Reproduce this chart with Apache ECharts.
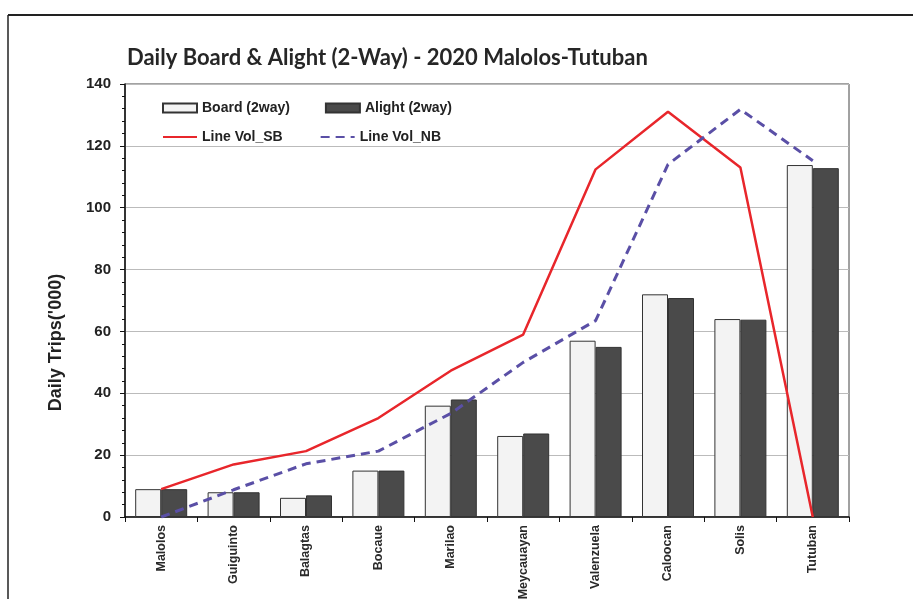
<!DOCTYPE html>
<html>
<head>
<meta charset="utf-8">
<script src="https://cdn.jsdelivr.net/npm/echarts@6/dist/echarts.min.js"></script>
<style>
  html, body { margin: 0; padding: 0; background: #fff; }
  #chart { width: 913px; height: 599px; }
</style>
</head>
<body>
<div id="chart"></div>
<script>
// 站点
var stations = ['Malolos', 'Guiguinto', 'Balagtas', 'Bocaue', 'Marilao', 'Meycauayan', 'Valenzuela', 'Caloocan', 'Solis', 'Tutuban']
// 上下车量 ('000)
var boardList = [9, 8, 6.2, 15, 36, 26.2, 57, 72, 64, 113.8]
var alightList = [9, 8, 7, 15, 38, 27, 55, 70.8, 63.8, 112.8]
// 断面流量
var lineVolSB = [9, 17, 21.3, 32, 47.3, 59, 112.4, 131, 113, 0]
var lineVolNB = [0, 8.8, 17.2, 21.3, 33.5, 50, 63.5, 114, 131.8, 115.2]

var chart = echarts.init(document.getElementById('chart'))
var labelFont = '"Liberation Sans", Arial, sans-serif'
var legendText = { fontFamily: labelFont, fontWeight: 'bold', fontSize: 14, color: '#222' }

chart.setOption({
  animation: false,
  title: {
    text: 'Daily Board & Alight (2-Way) - 2020 Malolos-Tutuban',
    left: 122,
    top: 42,
    textStyle: {
      fontFamily: 'Lato',
      fontWeight: 'bold',
      fontSize: 22,
      color: '#262626'
    }
  },
  graphic: [
    // 外框
    { type: 'line', shape: { x1: 8, y1: 15, x2: 913, y2: 15 }, style: { stroke: '#222', lineWidth: 2 } },
    { type: 'line', shape: { x1: 8, y1: 15, x2: 8, y2: 599 }, style: { stroke: '#222', lineWidth: 1.5 } }
  ],
  legend: [{
    data: [
      { name: 'Board (2way)', icon: 'rect' },
      { name: 'Alight (2way)', icon: 'rect' }
    ],
    left: 162,
    top: 101,
    padding: 0,
    itemWidth: 34,
    itemHeight: 9,
    itemGap: 35,
    textStyle: legendText
  }, {
    data: [
      { name: 'Line Vol_SB', itemStyle: { opacity: 0 } },
      { name: 'Line Vol_NB', itemStyle: { opacity: 0 } }
    ],
    left: 162,
    top: 130,
    padding: 0,
    itemWidth: 34,
    itemHeight: 9,
    itemGap: 37,
    textStyle: legendText
  }],
  grid: {
    left: 125,
    right: 64,
    top: 84,
    bottom: 82,
    outerBoundsMode: 'none',
    show: true,
    borderColor: '#444',
    borderWidth: 1
  },
  xAxis: {
    type: 'category',
    data: stations,
    axisLine: { lineStyle: { color: '#111', width: 1.5 } },
    axisTick: { show: true, length: 5, lineStyle: { color: '#111' } },
    axisLabel: {
      interval: 0,
      rotate: 90,
      margin: 8,
      fontFamily: labelFont,
      fontWeight: 'bold',
      fontSize: 12.5,
      color: '#2a2a2a'
    }
  },
  yAxis: {
    type: 'value',
    min: 0,
    max: 140,
    interval: 20,
    name: "Daily Trips('000)",
    nameLocation: 'middle',
    nameGap: 60,
    nameTextStyle: {
      fontFamily: labelFont,
      fontWeight: 'bold',
      fontSize: 18,
      color: '#222',
      padding: [0, 84, 0, 0]
    },
    axisLine: { show: true, lineStyle: { color: '#111', width: 1.5 } },
    axisTick: { show: true, length: 5, lineStyle: { color: '#111' } },
    minorTick: { show: true, splitNumber: 5, length: 3, lineStyle: { color: '#111' } },
    splitLine: { lineStyle: { color: '#bbb', width: 1 } },
    axisLabel: {
      margin: 14,
      fontFamily: labelFont,
      fontWeight: 'bold',
      fontSize: 15,
      color: '#222'
    }
  },
  series: [
    {
      name: 'Board (2way)',
      type: 'bar',
      barWidth: 26,
      barGap: '0%',
      itemStyle: { color: '#f3f3f3', borderColor: '#333', borderWidth: 1 },
      data: boardList
    },
    {
      name: 'Alight (2way)',
      type: 'bar',
      barWidth: 26,
      itemStyle: { color: '#4a4a4a', borderColor: '#333', borderWidth: 1 },
      data: alightList
    },
    {
      name: 'Line Vol_SB',
      type: 'line',
      symbol: 'none',
      z: 5,
      itemStyle: { color: '#e8262b' },
      lineStyle: { color: '#e8262b', width: 2.5 },
      data: lineVolSB
    },
    {
      name: 'Line Vol_NB',
      type: 'line',
      symbol: 'none',
      z: 5,
      itemStyle: { color: '#5a4fa6' },
      lineStyle: { color: '#5a4fa6', width: 3, type: [9, 6] },
      data: lineVolNB
    }
  ]
})
</script>
</body>
</html>
